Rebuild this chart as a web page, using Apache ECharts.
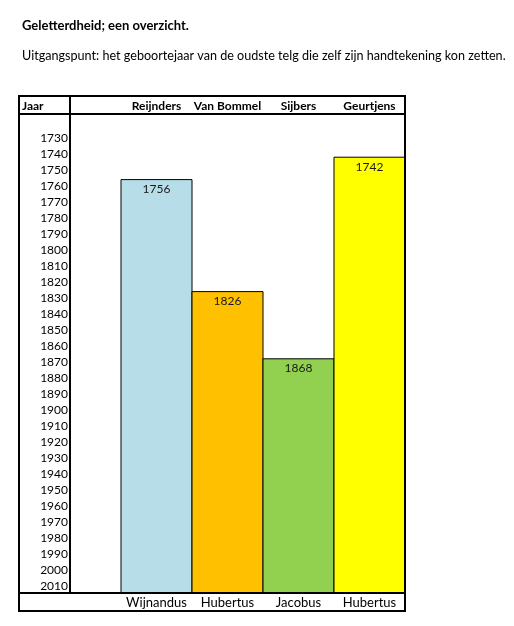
<!DOCTYPE html>
<html>
<head>
<meta charset="utf-8">
<script src="https://cdn.jsdelivr.net/npm/echarts@6/dist/echarts.min.js"></script>
<style>
  html, body { margin: 0; padding: 0; background: #fff; }
  #chart { width: 514px; height: 626px; }
</style>
</head>
<body>
<div id="chart"></div>
<script>
const families = ['Reijnders', 'Van Bommel', 'Sijbers', 'Geurtjens'];
const firstNames = ['Wijnandus', 'Hubertus', 'Jacobus', 'Hubertus'];
const birthYears = [1756, 1826, 1868, 1742];
const yearTicks = [1730, 1740, 1750, 1760, 1770, 1780, 1790, 1800, 1810, 1820,
    1830, 1840, 1850, 1860, 1870, 1880, 1890, 1900, 1910, 1920,
    1930, 1940, 1950, 1960, 1970, 1980, 1990, 2000, 2010];

const barColors = ['#B7DEE8', '#FFC000', '#92D050', '#FFFF00'];
const yMin = 1715;
const yMax = 2014.375;
const font = 'Lato, "Open Sans", sans-serif';

const chart = echarts.init(document.getElementById('chart'));

const option = {
    backgroundColor: '#fff',
    animation: false,
    title: {
        left: 22,
        top: 19,
        padding: 0,
        text: 'Geletterdheid; een overzicht.',
        subtext: 'Uitgangspunt: het geboortejaar van de oudste telg die zelf zijn handtekening kon zetten.',
        itemGap: 17,
        textStyle: { fontFamily: font, fontSize: 13, fontWeight: 'bold', color: '#000' },
        subtextStyle: { fontFamily: font, fontSize: 12.6, color: '#000' }
    },
    grid: { left: 121, right: 109, top: 114, bottom: 33 },
    xAxis: [
        {
            type: 'category',
            data: families,
            position: 'top',
            axisLine: { show: false },
            axisTick: { show: false },
            axisLabel: { interval: 0, margin: 2, fontFamily: font, fontSize: 12, fontWeight: 'bold', color: '#000' }
        },
        {
            type: 'category',
            data: firstNames,
            position: 'bottom',
            axisLine: { show: false },
            axisTick: { show: false },
            axisLabel: { interval: 0, margin: 3, fontFamily: font, fontSize: 13, color: '#000' }
        }
    ],
    yAxis: {
        type: 'value',
        inverse: true,
        min: yMin,
        max: yMax,
        axisLine: { show: false },
        axisTick: { show: false },
        splitLine: { show: false },
        axisLabel: {
            customValues: yearTicks,
            formatter: v => String(v),
            margin: 53,
            fontFamily: font,
            fontSize: 12,
            color: '#000'
        }
    },
    graphic: [
        { type: 'rect', shape: { x: 19, y: 96, width: 386, height: 515 },
          style: { fill: 'none', stroke: '#000', lineWidth: 2 }, z: 100 },
        { type: 'line', shape: { x1: 19, y1: 114, x2: 405, y2: 114 },
          style: { stroke: '#000', lineWidth: 2 }, z: 100 },
        { type: 'line', shape: { x1: 19, y1: 593, x2: 405, y2: 593 },
          style: { stroke: '#000', lineWidth: 2 }, z: 100 },
        { type: 'line', shape: { x1: 70, y1: 96, x2: 70, y2: 593 },
          style: { stroke: '#000', lineWidth: 2 }, z: 100 },
        { type: 'text', left: 22, top: 100,
          style: { text: 'Jaar', font: 'bold 12px ' + font, fill: '#000' }, z: 100 }
    ],
    series: [
        {
            type: 'custom',
            xAxisIndex: 0,
            data: birthYears.map((y, i) => [i, y]),
            encode: { x: 0, y: 1 },
            renderItem: function (params, api) {
                const cat = api.value(0);
                const top = api.coord([cat, api.value(1)]);
                const bottom = api.coord([cat, yMax]);
                const w = api.size([1, 0])[0];
                return {
                    type: 'rect',
                    shape: { x: top[0] - w / 2, y: top[1], width: w, height: bottom[1] - top[1] },
                    style: { fill: barColors[params.dataIndex], stroke: '#000', lineWidth: 1 },
                    textContent: {
                        style: { text: String(api.value(1)), font: '12px ' + font, fill: '#1a1a1a' }
                    },
                    textConfig: { position: 'insideTop', distance: 4 }
                };
            }
        }
    ]
};
chart.setOption(option);
</script>
</body>
</html>
